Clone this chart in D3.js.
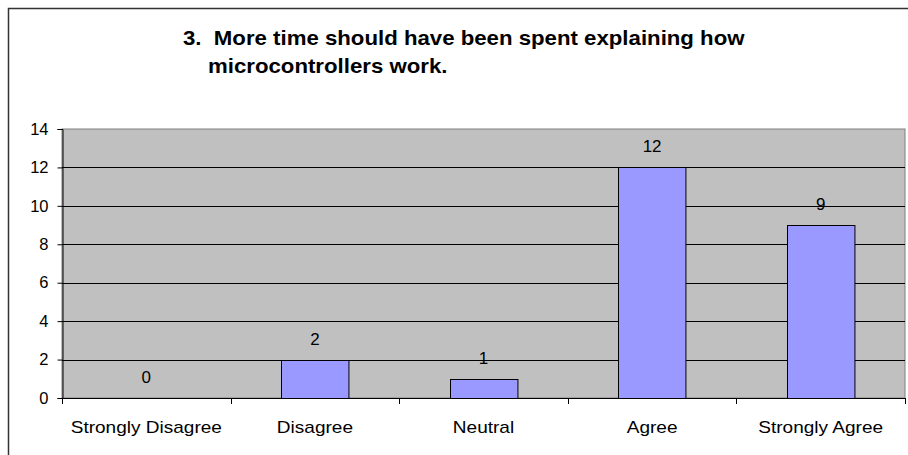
<!DOCTYPE html>
<html>
<head>
<meta charset="utf-8">
<script src="https://cdn.jsdelivr.net/npm/d3@7"></script>
<style>
  body { margin: 0; background: #fff; }
  svg text { font-family: "Liberation Sans", Arial, sans-serif; fill: #000; }
</style>
</head>
<body>
<div id="chart"></div>
<script>
// survey answers for question 3
var categories = ["Strongly Disagree", "Disagree", "Neutral", "Agree", "Strongly Agree"];
var counts = [0, 2, 1, 12, 9];
var yTicks = [0, 2, 4, 6, 8, 10, 12, 14];
var titleLines = ["3.  More time should have been spent explaining how", "microcontrollers work."];

var width = 908, height = 455;
var plot = { left: 62, right: 905, top: 129, bottom: 398 };

var svg = d3.select("#chart").append("svg")
    .attr("width", width)
    .attr("height", height);

/* outer chart frame, cut off on the right and bottom */
svg.append("rect")
    .attr("x", 8.5).attr("y", 8.5)
    .attr("width", 1000).attr("height", 1000)
    .attr("fill", "none")
    .attr("stroke", "#333")
    .attr("stroke-width", 1.5);

// the original text is a little wider than Arial, stretch it horizontally
function stretched(sel, px, py, sx) {
    return sel.attr("transform", "translate(" + px + "," + py + ") scale(" + sx + ",1)");
}

stretched(svg.append("text"), 183, 45, 1.14)
    .style("font-size", "19.5px").style("font-weight", "bold")
    .style("white-space", "pre")
    .text(titleLines[0]);
stretched(svg.append("text"), 208, 73, 1.14)
    .style("font-size", "19.5px").style("font-weight", "bold")
    .text(titleLines[1]);

var x = d3.scaleBand()
    .domain(categories)
    .range([plot.left, plot.right])
    .paddingInner(0.6)
    .paddingOuter(0.3);

var y = d3.scaleLinear()
    .domain([0, 14])
    .range([plot.bottom, plot.top]);

// grey plot area
svg.append("rect")
    .attr("x", plot.left).attr("y", plot.top)
    .attr("width", plot.right - plot.left)
    .attr("height", plot.bottom - plot.top)
    .attr("fill", "#c0c0c0")
    .attr("stroke", "#808080");

// gridlines
svg.append("g").selectAll("line")
    .data(yTicks.filter(function(d) { return d > 0 && d < 14; }))
    .enter().append("line")
    .attr("x1", plot.left).attr("x2", plot.right)
    .attr("y1", function(d) { return Math.round(y(d)) + 0.5; })
    .attr("y2", function(d) { return Math.round(y(d)) + 0.5; })
    .attr("stroke", "#000");

// bars
svg.append("g").selectAll("rect")
    .data(counts)
    .enter().append("rect")
    .attr("x", function(d, i) { return Math.round(x(categories[i])) + 0.5; })
    .attr("y", function(d) { return Math.round(y(d)) + 0.5; })
    .attr("width", x.bandwidth())
    .attr("height", function(d) { return Math.round(y(0)) - Math.round(y(d)); })
    .attr("fill", "#9999ff")
    .attr("stroke", "#000")
    .style("display", function(d) { return d > 0 ? null : "none"; });

// value labels
svg.append("g").selectAll("text")
    .data(counts)
    .enter().append("text")
    .attr("x", function(d, i) { return x(categories[i]) + x.bandwidth() / 2; })
    .attr("y", function(d) { return y(d) - 15; })
    .attr("text-anchor", "middle")
    .style("font-size", "17px")
    .text(function(d) { return d; });

// y axis
var yAxis = svg.append("g")
    .attr("transform", "translate(" + (plot.left + 0.5) + ",0)")
    .call(d3.axisLeft(y).tickValues(yTicks).tickSize(5).tickPadding(9));
yAxis.select(".domain").attr("stroke", "#000");
yAxis.selectAll("text").style("font-size", "16.5px").attr("fill", "#000");

// x axis: line plus ticks at the category boundaries
var step = x.step();
var bounds = d3.range(categories.length + 1).map(function(i) { return plot.left + i * step; });
svg.append("line")
    .attr("x1", plot.left).attr("x2", plot.right + 1)
    .attr("y1", plot.bottom + 0.5).attr("y2", plot.bottom + 0.5)
    .attr("stroke", "#000");
svg.append("g").selectAll("line")
    .data(bounds)
    .enter().append("line")
    .attr("x1", function(d) { return Math.round(d) + 0.5; })
    .attr("x2", function(d) { return Math.round(d) + 0.5; })
    .attr("y1", plot.bottom).attr("y2", plot.bottom + 6)
    .attr("stroke", "#000");
svg.append("g").selectAll("text")
    .data(categories)
    .enter().append("text")
    .each(function(d) {
        stretched(d3.select(this), x(d) + x.bandwidth() / 2, 433, 1.12);
    })
    .attr("text-anchor", "middle")
    .style("font-size", "17px")
    .text(function(d) { return d; });
</script>
</body>
</html>
